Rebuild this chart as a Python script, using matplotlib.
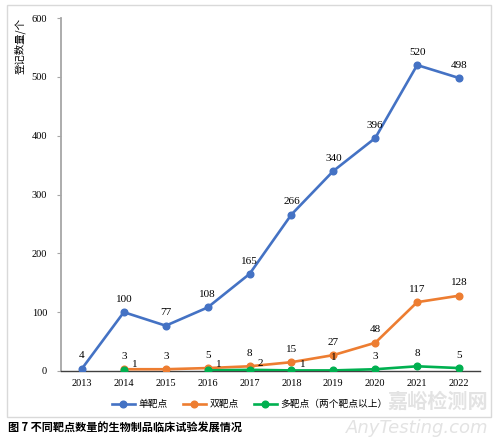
import numpy as np
import matplotlib
matplotlib.use("Agg")
import matplotlib.pyplot as plt
from matplotlib.patches import Rectangle
from matplotlib.lines import Line2D

plt.rcParams['font.family'] = ['Liberation Serif', 'Noto Sans CJK SC', 'DejaVu Sans']

# données
years = ['2013', '2014', '2015', '2016', '2017', '2018', '2019', '2020', '2021', '2022']
single = [4, 100, 77, 108, 165, 266, 340, 396, 520, 498]
double = [np.nan, 3, 3, 5, 8, 15, 27, 48, 117, 128]
multi = [np.nan, 1, np.nan, 1, 2, 1, 1, 3, 8, 5]
series_names = ['单靶点', '双靶点', '多靶点（两个靶点以上）']
colors = ['#4472C4', '#ED7D31', '#00B050']
caption = '图 7 不同靶点数量的生物制品临床试验发展情况'
ylabel = '登记数量/个'
yticks = [0, 100, 200, 300, 400, 500, 600]

fig = plt.figure(figsize=(5, 4.42), dpi=100)
fig.patches.append(Rectangle((7 / 500, 1 - 417 / 442), 484 / 500, 412 / 442,
                             transform=fig.transFigure, fill=False,
                             edgecolor='#D9D9D9', linewidth=1.0))

ax = fig.add_axes([61 / 500, 1 - 371 / 442, 419 / 500, 353 / 442])
x = np.arange(len(years))

for vals, c in zip([single, double, multi], colors):
    ax.plot(x, vals, color=c, linewidth=1.9, marker='o', markersize=4.8, zorder=3)

# étiquettes
for i, v in enumerate(single):
    ax.annotate(str(v), (x[i], v), xytext=(0, 6), textcoords='offset points',
                ha='center', va='bottom', fontsize=8)
for i, v in enumerate(double):
    if not np.isnan(v):
        ax.annotate(str(int(v)), (x[i], v), xytext=(0, 6), textcoords='offset points',
                    ha='center', va='bottom', fontsize=8)
for i, v in enumerate(multi):
    if np.isnan(v):
        continue
    if i <= 5:
        ax.annotate(str(int(v)), (x[i], v), xytext=(6, 1), textcoords='offset points',
                    ha='left', va='bottom', fontsize=8)
    else:
        ax.annotate(str(int(v)), (x[i], v), xytext=(0, 6), textcoords='offset points',
                    ha='center', va='bottom', fontsize=8)

ax.set_xlim(-0.5, len(years) - 0.5)
ax.set_ylim(0, 600)
ax.set_xticks(x)
ax.set_xticklabels(years, fontsize=7.5)
ax.set_yticks(yticks)
ax.set_yticklabels([str(t) for t in yticks], fontsize=7.5)
ax.tick_params(axis='x', length=0, pad=6)
ax.tick_params(axis='y', length=3, width=0.8, color='#A6A6A6', pad=7)
for s in ['top', 'right']:
    ax.spines[s].set_visible(False)
ax.spines['left'].set_color('#A6A6A6')
ax.spines['left'].set_linewidth(1.3)
ax.spines['bottom'].set_color('#404040')
ax.spines['bottom'].set_linewidth(1.0)

fig.text(20 / 500, 1 - 18 / 442, ylabel, rotation=90, ha='center', va='top',
         fontsize=7.5, family=['Noto Sans CJK SC'])

handles = [Line2D([], [], color=c, linewidth=1.9, marker='o', markersize=4.8) for c in colors]
fig.legend(handles, series_names, loc='center', bbox_to_anchor=(250 / 500, 1 - 404 / 442),
           ncol=3, frameon=False, prop={'family': 'Noto Sans CJK SC', 'size': 7},
           handlelength=2.3, columnspacing=1.6, handletextpad=0.4)

fig.text(8 / 500, 1 - 428 / 442, caption, ha='left', va='center', fontsize=8,
         family=['Noto Sans CJK SC'], fontweight='bold')

# filigrane
fig.text(488 / 500, 1 - 401 / 442, '嘉峪检测网', ha='right', va='center', fontsize=14.5,
         color='#E3E3E3', family=['Noto Sans CJK SC'], fontweight='bold', zorder=0)
fig.text(488 / 500, 1 - 428 / 442, 'AnyTesting.com', ha='right', va='center', fontsize=13,
         color='#E3E3E3', family=['DejaVu Sans'], style='italic', zorder=0)

fig.savefig('out.png', dpi=100)
